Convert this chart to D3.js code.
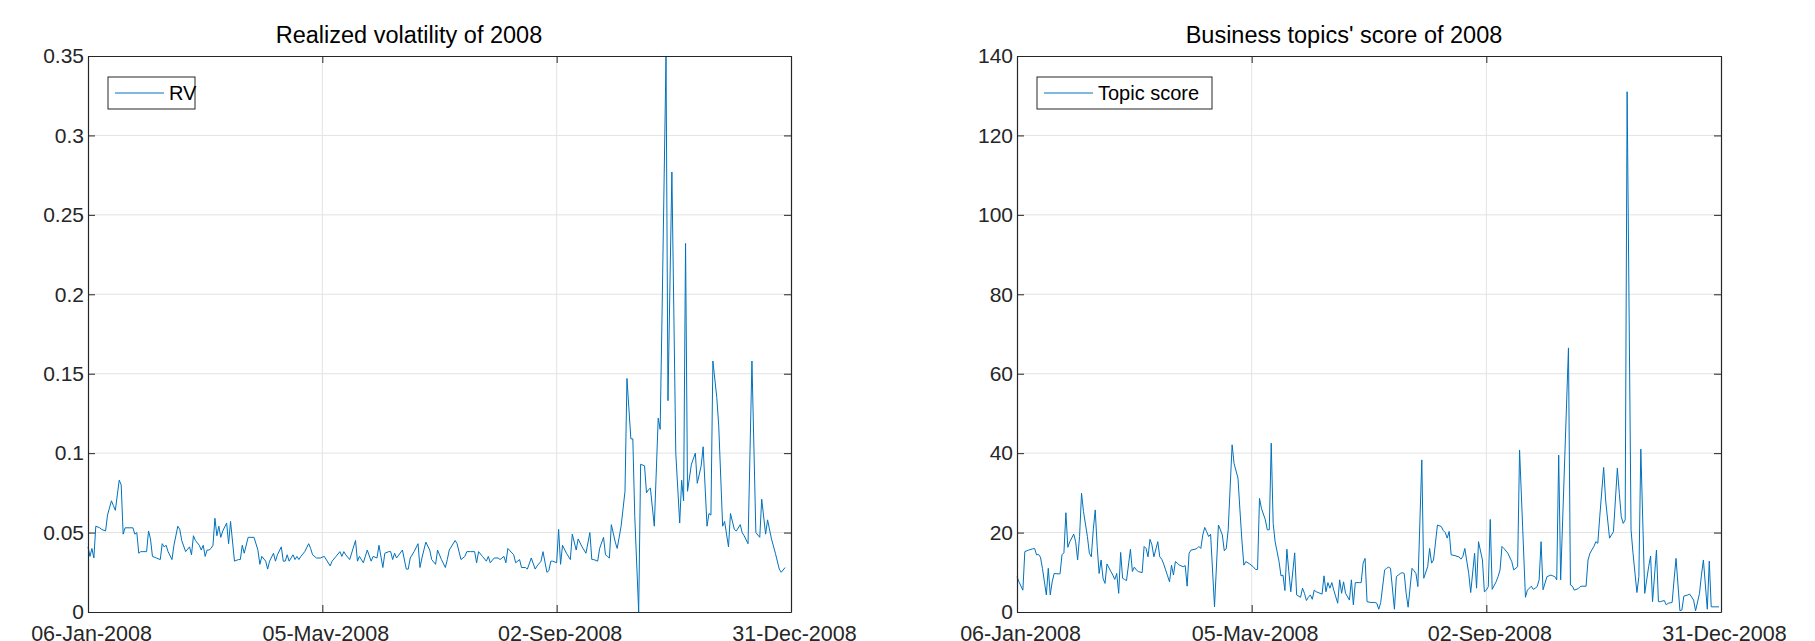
<!DOCTYPE html>
<html>
<head>
<meta charset="utf-8">
<script src="https://cdn.jsdelivr.net/npm/d3@7"></script>
<style>
  html, body { margin: 0; padding: 0; background: #fff; }
  svg text { font-family: "Liberation Sans", Arial, Helvetica, sans-serif; fill: #262626; }
</style>
</head>
<body>
<div id="chart"></div>
<script>
// day offsets are counted from 06-Jan-2008
var startDate = "06-Jan-2008";
var endDate = "31-Dec-2008";
var xTickLabels = ["06-Jan-2008", "05-May-2008", "02-Sep-2008", "31-Dec-2008"];

var rvTicks = [0, 0.05, 0.1, 0.15, 0.2, 0.25, 0.3, 0.35];
var topicTicks = [0, 20, 40, 60, 80, 100, 120, 140];

var rvDay = [
  0,1,2,3,4,6,7,9,10,12, 13,14,16,17,18,19,21,23,24,25,
  26,27,28,30,31,32,33,35,37,38, 39,40,41,43,44,46,47,48,50,52,
  53,54,55,57,58,59,60,61,62,63, 64,65,66,67,68,69,71,72,73,75,
  77,78,79,80,82,83,85,87,88,89, 91,92,93,95,96,97,99,100,101,102,
  103,104,105,106,107,108,109,111,113,114, 115,117,119,121,124,125,127,129,130,131,
  132,134,137,138,139,141,143,145,146,148, 149,151,152,154,155,156,157,158,161,163,
  164,165,167,169,170,171,173,175,176,178, 179,181,183,184,185,188,189,191,193,194,
  196,198,199,200,202,204,205,206,208,210, 211,213,214,215,218,219,221,222,224,225,
  227,229,230,232,233,235,236,237,238,240, 241,242,243,245,247,248,250,251,253,255,
  257,258,259,261,262,264,265,266,267,268, 270,271,273,275,276,278,279,280,282,283,
  285,286,287,288,290,292,293,
  294,296,297,299,301,303,304,305,306,307, 309,311,312,314,315,317,318,319,320,322,
  323,325,326,328,329,331,332,334,335,336, 338,340,342,344,345,347,348,350,352,354,
  355,357
];
var rvValue = [
  .041,.035,.040,.034,.054,.053,.052,.051,.061,.070, .067,.064,.083,.080,.049,.053,.053,.053,.049,.050,
  .037,.038,.038,.038,.051,.046,.035,.034,.033,.043, .041,.042,.038,.033,.042,.054,.052,.045,.038,.041,
  .036,.048,.045,.042,.039,.042,.035,.039,.039,.040, .042,.059,.048,.054,.047,.051,.056,.043,.057,.032,
  .033,.033,.042,.037,.047,.047,.047,.039,.030,.035, .032,.027,.032,.037,.032,.036,.041,.032,.032,.036,
  .032,.034,.036,.033,.035,.033,.035,.038,.043,.040, .036,.034,.034,.035,.029,.032,.035,.038,.035,.038,
  .036,.033,.045,.032,.035,.031,.039,.032,.035,.034, .042,.028,.037,.038,.038,.033,.037,.034,.039,.027,
  .027,.034,.038,.043,.028,.034,.044,.039,.033,.030, .039,.033,.028,.033,.039,.045,.043,.033,.035,.038,
  .038,.038,.031,.038,.035,.032,.035,.031,.034,.034, .033,.035,.031,.040,.036,.031,.033,.028,.028,.027,
  .034,.027,.029,.032,.038,.025,.026,.032,.032,.031, .052,.030,.042,.037,.033,.049,.039,.046,.041,.037,
  .050,.033,.033,.032,.040,.047,.036,.035,.034,.055, .044,.040,.054,.076,.147,.109,.109,.060,.000,.093,
  .092,.075,.077,.078,.054,.122,.115,
  .190,.350,.133,.277,.100,.056,.083,.070,.232,.076, .093,.100,.081,.092,.104,.054,.062,.061,.158,.135,
  .117,.054,.057,.041,.062,.052,.051,.055,.050,.048, .043,.158,.050,.047,.071,.049,.058,.046,.037,.027,
  .025,.028
];

var topicDay = [
  0,1,3,4,6,8,9,10,11,12, 13,15,16,17,18,19,21,22,23,24,
  25,26,27,29,30,31,32,33,34,36, 37,38,39,40,41,42,43,44,45,46,
  48,49,50,51,52,53,54,55,56,58, 59,60,61,62,64,65,66,67,68,69,
  70,72,73,74,75,76,77,78,79,80, 81,82,83,85,86,87,88,89,91,92,
  93,94,95,96,97,98,99,101,103,104, 105,106,107,108,110,111,113,114,115,116,
  117,119,121,122,123,124,125,127,128,129, 130,131,132,134,135,136,137,138,139,140,
  142,143,145,146,147,148,149,150,151,152, 153,155,156,157,158,159,160,161,162,164,
  165,166,167,168,170,171,172,173,175,176, 177,178,179,181,182,183,184,185,186,188,
  189,190,191,193,194,195,196,197,198,199, 200,202,203,204,205,207,208,210,211,212,
  213,215,217,218,219,220,221,222,224,225, 226,227,228,229,231,232,234,235,236,238,
  239,240,241,242,243,245,246,247,248,249, 251,253,254,256,257,260,261,263,264,265,
  266,267,268,269,271,272,273,274,275,276, 277,278,282,283,284,285,287,288,289,291,
  292,293,295,296,297,298,300,301,303,304, 305,307,308,309,310,311,312,314,315,317,
  318,319,321,322,323,324,325,327,328,329, 331,332,333,335,336,337,339,340,341,343,
  344,346,347,349,350,351,353,354,355,357, 358,359
];
var topicValue = [
  8.9,7.6,5.5,15.2,15.6,15.9,16.0,14.4,14.5,13.8, 11.0,4.3,11.0,4.3,7.6,9.7,9.6,9.6,14.4,14.9,
  25.0,16.3,17.7,19.6,17.7,13.1,19.0,29.9,25.3,19.0, 14.8,13.9,20.7,25.7,16.5,9.7,13.1,8.5,7.2,12.1,
  10.2,9.3,8.2,9.7,4.7,15.0,8.5,8.2,7.9,15.8, 10.2,11.3,10.6,10.2,9.9,16.5,16.0,13.9,18.3,16.9,
  13.9,17.7,13.9,13.3,12.1,10.6,9.1,7.6,11.8,9.3, 12.7,12.3,11.8,11.4,11.7,6.5,14.8,15.6,15.8,16.0,
  16.5,16.0,19.4,21.3,20.2,19.0,19.6,1.3,21.9,20.7, 19.4,15.4,16.0,20.7,42.1,37.4,33.7,25.7,18.1,11.8,
  12.7,12.1,11.3,10.7,10.7,28.6,26.1,23.2,20.7,20.7, 42.5,22.3,17.7,12.7,9.1,9.3,5.4,15.8,10.2,5.1,
  14.9,4.3,3.7,6.0,4.7,2.9,3.7,4.3,3.2,5.5, 5.1,4.7,4.5,9.1,5.1,7.4,6.0,7.4,5.5,2.2,
  8.1,4.7,7.6,4.7,3.0,8.1,1.8,7.4,7.4,7.4, 12.3,13.5,2.6,2.4,2.4,2.4,2.2,0.7,2.4,10.6,
  11.0,11.3,11.0,0.7,8.9,9.3,9.7,9.9,9.7,4.7, 1.2,11.0,10.4,9.7,6.4,38.3,8.5,11.4,16.0,12.3,
  13.1,21.9,21.5,20.5,20.0,18.6,20.3,14.4,14.2,14.0, 13.9,13.3,14.0,16.0,9.7,4.9,14.8,6.0,17.7,13.1,
  5.1,5.5,6.4,23.3,5.7,7.6,8.9,10.6,16.5,16.0, 14.8,12.7,10.6,11.4,40.8,3.7,5.5,6.5,5.7,6.0,
  6.4,8.1,17.7,5.6,8.9,9.1,9.3,9.1,8.9,8.1, 39.5,8.1,66.5,6.8,6.5,5.5,5.9,6.4,6.5,6.5,
  13.1,14.8,16.5,17.7,17.3,24.0,36.4,28.2,18.6,19.4, 20.2,36.2,29.9,24.0,22.3,23.2,131.0,20.7,14.8,4.9,
  8.9,41.0,4.7,8.1,11.4,14.1,2.6,15.6,2.6,2.6, 2.9,1.8,2.2,2.4,8.1,13.5,0.3,0.5,4.0,4.3,
  4.5,3.0,0.3,4.7,9.3,13.1,0.7,12.8,1.3,1.3, 1.3,1.3
];

var WIDTH = 1815, HEIGHT = 641;
var TICK = 7;
var AXIS_COLOR = "#262626", GRID_COLOR = "#e3e3e3", LINE_COLOR = "#0072bd";

var parseDate = d3.timeParse("%d-%b-%Y");
var formatDate = d3.timeFormat("%d-%b-%Y");
var day0 = parseDate(startDate);

var svg = d3.select("#chart")
  .append("svg")
    .attr("width", WIDTH)
    .attr("height", HEIGHT);

var panels = [
  {
    title: "Realized volatility of 2008",
    legend: "RV",
    days: rvDay, values: rvValue, ticks: rvTicks,
    left: 88, right: 791, top: 56, bottom: 612,
    titleX: 409, legendWidth: 87
  },
  {
    title: "Business topics' score of 2008",
    legend: "Topic score",
    days: topicDay, values: topicValue, ticks: topicTicks,
    left: 1017, right: 1721, top: 56, bottom: 612,
    titleX: 1344, legendWidth: 175
  }
];

panels.forEach(function(p) {
  var x = d3.scaleTime()
    .domain([parseDate(startDate), parseDate(endDate)])
    .range([p.left, p.right]);
  var y = d3.scaleLinear()
    .domain([p.ticks[0], p.ticks[p.ticks.length - 1]])
    .range([p.bottom, p.top]);

  var xTicks = xTickLabels.map(parseDate);
  var g = svg.append("g");

  // grid
  g.append("g")
    .selectAll("line.gx").data(xTicks.slice(1, -1)).enter()
    .append("line")
      .attr("x1", function(d) { return x(d); })
      .attr("x2", function(d) { return x(d); })
      .attr("y1", p.top).attr("y2", p.bottom)
      .attr("stroke", GRID_COLOR).attr("stroke-width", 1);
  g.append("g")
    .selectAll("line.gy").data(p.ticks.slice(1, -1)).enter()
    .append("line")
      .attr("x1", p.left).attr("x2", p.right)
      .attr("y1", function(d) { return y(d); })
      .attr("y2", function(d) { return y(d); })
      .attr("stroke", GRID_COLOR).attr("stroke-width", 1);

  // data line
  var line = d3.line()
    .x(function(d, i) { return x(d3.timeDay.offset(day0, p.days[i])); })
    .y(function(d) { return y(d); });

  g.append("path")
    .datum(p.values)
    .attr("d", line)
    .attr("fill", "none")
    .attr("stroke", LINE_COLOR)
    .attr("stroke-width", 1)
    .attr("stroke-linejoin", "round");

  // axes, ticks pointing inwards on all four sides
  var yFormat = function(d) { return String(+d.toFixed(2)); };

  var axes = [
    [d3.axisBottom(x).tickValues(xTicks).tickFormat(formatDate).tickPadding(14), "translate(0," + p.bottom + ")", "21.5px"],
    [d3.axisTop(x).tickValues(xTicks).tickFormat(""), "translate(0," + p.top + ")", "20px"],
    [d3.axisLeft(y).tickValues(p.ticks).tickFormat(yFormat).tickPadding(4), "translate(" + p.left + ",0)", "21px"],
    [d3.axisRight(y).tickValues(p.ticks).tickFormat(""), "translate(" + p.right + ",0)", "20px"]
  ];
  axes.forEach(function(a) {
    var ax = g.append("g")
      .attr("transform", a[1])
      .call(a[0].tickSizeInner(-TICK).tickSizeOuter(0));
    ax.select(".domain").attr("stroke", AXIS_COLOR).attr("stroke-width", 1.2);
    ax.selectAll(".tick line").attr("stroke", AXIS_COLOR);
    ax.selectAll(".tick text")
      .attr("fill", AXIS_COLOR)
      .style("font-size", a[2]);
  });
  g.selectAll(".tick text").filter(function() { return d3.select(this).attr("dy") === "0.71em"; })
    .attr("dx", 3);

  // title
  g.append("text")
    .attr("x", p.titleX)
    .attr("y", 43)
    .attr("text-anchor", "middle")
    .style("font-size", "23.5px")
    .style("fill", "#000")
    .text(p.title);

  // legend
  var lx = p.left + 20, ly = 77;
  var legend = g.append("g").attr("transform", "translate(" + lx + "," + ly + ")");
  legend.append("rect")
    .attr("width", p.legendWidth).attr("height", 32)
    .attr("fill", "#fff")
    .attr("stroke", AXIS_COLOR).attr("stroke-width", 1);
  legend.append("line")
    .attr("x1", 7).attr("x2", 56)
    .attr("y1", 16).attr("y2", 16)
    .attr("stroke", LINE_COLOR).attr("stroke-width", 1);
  legend.append("text")
    .attr("x", 61).attr("y", 23)
    .style("font-size", "20px")
    .style("fill", "#000")
    .text(p.legend);
});
</script>
</body>
</html>
